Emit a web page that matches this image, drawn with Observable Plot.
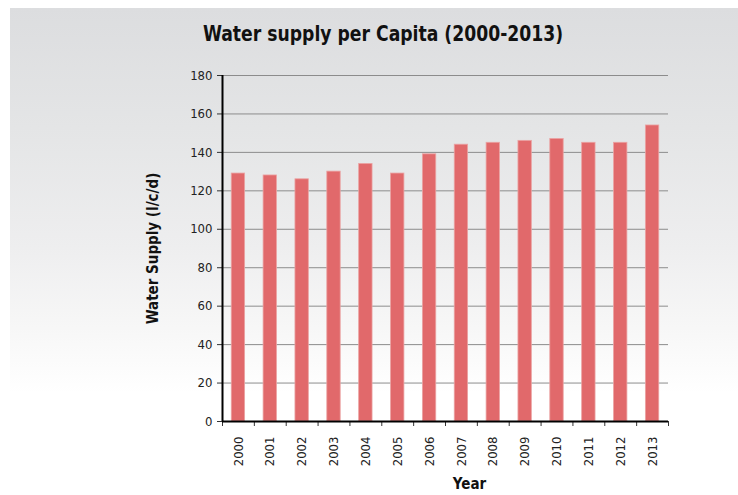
<!DOCTYPE html>
<html>
<head>
<meta charset="utf-8">
<script src="https://cdn.jsdelivr.net/npm/d3@7"></script>
<script src="https://cdn.jsdelivr.net/npm/@observablehq/plot@0.6"></script>
<style>
  html, body { margin: 0; padding: 0; background: #fff; }
  #wrap { position: relative; width: 738px; height: 495px; overflow: hidden; }
  #bg { position: absolute; left: 10px; top: 8px; width: 728px; height: 487px;
        background: linear-gradient(to bottom, #dcdddf 0px, #e4e5e6 120px, #eeeeef 240px, #f7f7f7 320px, #ffffff 385px); }
  #title { position: absolute; left: 0; top: 21px; width: 766px; text-align: center;
           font-family: "DejaVu Sans Condensed", sans-serif;
           font-weight: bold; font-size: 22px; color: #111;
           transform: scaleX(0.87); transform-origin: 383px 0; }
  #chart { position: absolute; left: 0; top: 0; }
  #chart svg { background: transparent; }
</style>
</head>
<body>
<div id="wrap">
  <div id="bg"></div>
  <div id="title"></div>
  <div id="chart"></div>
</div>
<script>
const chartTitle = "Water supply per Capita (2000-2013)";
const yLabel = "Water Supply (l/c/d)";
const xLabel = "Year";
const years = ["2000","2001","2002","2003","2004","2005","2006","2007","2008","2009","2010","2011","2012","2013"];
const supply = [129, 128, 126, 130, 134, 129, 139, 144, 145, 146, 147, 145, 145, 154];
const yTicks = [0, 20, 40, 60, 80, 100, 120, 140, 160, 180];

const data = years.map((y, i) => ({year: y, value: supply[i]}));

document.getElementById("title").textContent = chartTitle;

const W = 738, H = 495, mL = 222, mR = 70, mT = 75, mB = 74;
const step = (W - mL - mR) / years.length;
const font = '"DejaVu Sans Condensed", sans-serif';

const chart = Plot.plot({
  width: W,
  height: H,
  marginLeft: mL,
  marginRight: mR,
  marginTop: mT,
  marginBottom: mB,
  style: {fontFamily: font, fontSize: "13px", color: "#222", background: "transparent"},
  x: {type: "band", domain: years, paddingInner: 0.58, paddingOuter: 0.29, align: 0.5, round: false},
  y: {domain: [0, 180]},
  marks: [
    Plot.gridY(yTicks, {stroke: "#8c8c8c", strokeOpacity: 1, strokeWidth: 1}),
    Plot.barY(data, {x: "year", y: "value", fill: "#e1696b", stroke: "#eba3a3", strokeWidth: 0.8}),
    Plot.axisY(yTicks, {tickSize: 5, tickPadding: 5, stroke: "#333", fontSize: 13, label: null}),
    Plot.axisX(years, {tickSize: 0, tickPadding: 15, tickRotate: -90, fontSize: 13, label: null}),
    Plot.axisX(years, {tickSize: 5, tickFormat: () => "", dx: -step / 2, stroke: "#333", label: null}),
    Plot.axisX([years[years.length - 1]], {tickSize: 5, tickFormat: () => "", dx: step / 2, stroke: "#333", label: null}),
    Plot.ruleY([0], {stroke: "#000", strokeWidth: 2}),
    Plot.ruleX([years[0]], {dx: -step / 2, stroke: "#000", strokeWidth: 2}),
    Plot.text([yLabel], {frameAnchor: "left", dx: -69, rotate: -90, textAnchor: "middle", fontSize: 15, fontWeight: "bold", fill: "#111"}),
    Plot.text([xLabel], {frameAnchor: "bottom", dy: 67, dx: 24, fontSize: 15, fontWeight: "bold", fill: "#111"})
  ]
});

document.getElementById("chart").appendChild(chart);
</script>
</body>
</html>
